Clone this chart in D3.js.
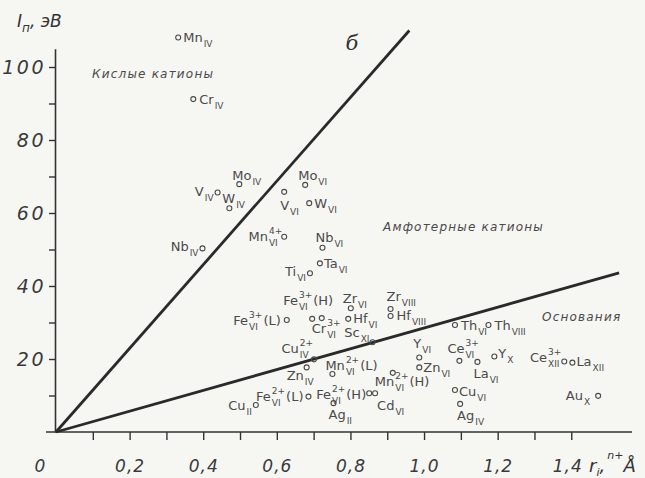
<!DOCTYPE html>
<html>
<head>
<meta charset="utf-8">
<script src="https://cdn.jsdelivr.net/npm/d3@7"></script>
<style>
  body { margin: 0; background: #f6f6f3; }
  svg { display: block; }
  .ion { font-family: "DejaVu Sans", sans-serif; font-size: 13px; fill: #4a4a4a; }
  .idx { font-family: "DejaVu Sans", sans-serif; font-size: 9px; fill: #4a4a4a; }
  .tick text { font-family: "DejaVu Sans", sans-serif; font-style: italic; fill: #3a3a3a; }
  .note { font-family: "DejaVu Sans", sans-serif; font-style: italic; font-size: 12px; fill: #4a4a4a; letter-spacing: 1.2px; }
</style>
</head>
<body>
<div id="root"></div>
<script>
// ионы: символ, координация (нижний индекс), заряд (верхний), спин
const elements = ["Mn","Cr","Mo","V","W","Nb","Mo","V","W","Mn","Nb","Ti","Ta","Fe","Cr","Fe","Zr","Hf","Sc","Zr","Hf",
  "Cu","Zn","Mn","Fe","Cu","Fe","Cd","Ag","Mn","Y","Zn","Th","Th","Ce","La","Y","Cu","Ag","Ce","La","Au"];
const coordination = ["IV","IV","IV","IV","IV","IV","VI","VI","VI","VI","VI","VI","VI","VI","VI","VI","VI","VI","XI","VIII","VIII",
  "IV","IV","VI","VI","II","VI","VI","II","VI","VI","VI","VI","VIII","VI","VI","X","VI","IV","XII","XII","X"];
const charges = ["","","","","","","","","","4+","","","","3+","3+","3+","","","","","",
  "2+","","2+","2+","","2+","","","2+","","","","","3+","","","","","3+","",""];
const spins = ["","","","","","","","","","","","","","(H)","","(L)","","","","","",
  "","","(L)","(L)","","(H)","","","(H)","","","","","","","","","","","",""];
// ионный радиус r, Å
const radius = [0.332,0.373,0.498,0.439,0.471,0.398,0.677,0.620,0.688,0.620,0.724,0.690,0.717,0.696,0.722,0.627,0.801,0.794,0.860,0.909,0.909,
  0.701,0.681,0.751,0.686,0.543,0.851,0.867,0.754,0.915,0.987,0.987,1.084,1.175,1.096,1.145,1.191,1.084,1.098,1.381,1.403,1.473];
// ионный потенциал In, эВ
const potential = [108.1,91.2,67.9,65.6,61.3,50.3,67.7,65.8,62.7,53.5,50.5,43.5,46.2,31.0,31.2,30.7,33.9,31.0,24.6,33.7,31.8,
  19.9,17.7,15.9,9.7,7.4,10.6,10.6,7.9,16.2,20.4,17.7,29.3,29.3,19.5,19.2,20.7,11.5,7.7,19.3,19.0,9.9];

// границы областей
const acidBorder = [[0, 0], [0.96, 110]];
const baseBorder = [[0, 0], [1.53, 43.6]];

const xTicks = d3.range(1, 15).map(i => i / 10);
const yTicks = d3.range(10, 101, 10);

// положение подписей относительно кружка: dx, dy, привязка
const labelPos = [[5,5,"s"],[6,5,"s"],[-7,-4,"s"],[-4,3,"e"],[-7,-5,"s"],[-4,3,"e"],[-7,-5,"s"],[-4,18,"s"],[5,5,"s"],[-2,4,"e"],
  [-7,-6,"s"],[-4,3,"e"],[4,5,"s"],[-29,-14,"s"],[-10,15,"s"],[-6,5,"e"],[-8,-5,"s"],[5,4,"s"],[-3,-5,"e"],[-4,-8,"s"],[6,4,"s"],
  [-1,-6,"e"],[-20,13,"s"],[-7,-4,"s"],[-5,4,"e"],[-4,5,"e"],[-3,6,"e"],[2,17,"s"],[-5,16,"s"],[-18,13,"s"],[-6,-10,"s"],
  [4,5,"s"],[6,5,"s"],[6,5,"s"],[-12,-8,"s"],[-4,16,"s"],[4,2,"s"],[4,6,"s"],[-3,16,"s"],[-3,0,"e"],[4,3,"s"],[-8,4,"e"]];

const width = 645;
const height = 478;

const svg = d3.select("#root")
  .append("svg")
    .attr("width", width)
    .attr("height", height);

const xScale = d3.scaleLinear().domain([0, 1.565]).range([56, 632]);
const yScale = d3.scaleLinear().domain([0, 105]).range([432, 48.75]);

// Оси
const xAxis = svg.append("g")
  .attr("transform", `translate(0, ${yScale(0)})`)
  .call(d3.axisBottom(xScale)
    .tickValues(xTicks)
    .tickSize(8)
    .tickSizeOuter(0)
    .tickPadding(20)
    .tickFormat(d => Math.round(d * 10) % 2 === 0 ? d.toFixed(1).replace(".", ",") : ""));
xAxis.select(".domain").attr("d", `M${xScale(0) - 10},0H${xScale(1.565)}`);

const yAxis = svg.append("g")
  .attr("transform", `translate(${xScale(0) - 1}, 0)`)
  .call(d3.axisLeft(yScale)
    .tickValues(yTicks)
    .tickSize(6)
    .tickSizeOuter(0)
    .tickPadding(3)
    .tickFormat(d => d % 20 === 0 ? d : ""));

svg.selectAll(".domain").attr("stroke", "#333").attr("stroke-width", 1.6);
svg.selectAll(".tick line").attr("stroke", "#333").attr("stroke-width", 1.4);
xAxis.selectAll(".tick text").style("font-size", "17px").style("letter-spacing", "1px");
yAxis.selectAll(".tick text").style("font-size", "19px").style("letter-spacing", "2.5px");
// подпись 1,4 чуть левее, как в оригинале
xAxis.selectAll(".tick").filter(d => Math.round(d * 10) === 14).select("text").attr("dx", -4);

svg.append("text")
    .attr("x", xScale(0) - 16)
    .attr("y", 472)
    .attr("text-anchor", "middle")
    .style("font", "italic 17px 'DejaVu Sans'")
    .attr("fill", "#3a3a3a")
    .text("0");

// подпись оси y: In, эВ
const yTitle = svg.append("text")
    .attr("x", 17)
    .attr("y", 27)
    .style("font", "italic 17px 'DejaVu Sans'")
    .attr("fill", "#333");
yTitle.append("tspan").text("I");
yTitle.append("tspan").attr("dy", 5).style("font-size", "12px").text("п");
yTitle.append("tspan").attr("dy", -5).text(", эВ");

// подпись оси x: ri n+, Å
const xTitle = svg.append("text")
    .attr("x", 589)
    .attr("y", 472)
    .style("font", "italic 18px 'DejaVu Sans'")
    .attr("fill", "#333");
xTitle.append("tspan").text("r");
xTitle.append("tspan").attr("dy", 4).style("font-size", "11px").text("i");
xTitle.append("tspan").attr("dy", -4).text(",");
xTitle.append("tspan").attr("dy", -13).attr("dx", 2).style("font-size", "11px").text("n+");
xTitle.append("tspan").attr("dy", 13).attr("dx", 0).text("Å");

// Границы
const lineCreator = d3.line()
  .x(d => xScale(d[0]))
  .y(d => yScale(d[1]));

svg.selectAll("path.border")
  .data([acidBorder, baseBorder])
  .enter()
  .append("path")
    .attr("class", "border")
    .attr("d", d => lineCreator(d))
    .attr("fill", "none")
    .attr("stroke", "#2a2a2a")
    .attr("stroke-width", 2.8);

// Надписи областей
svg.append("text").attr("class", "note").attr("x", 92).attr("y", 78).text("Кислые катионы");
svg.append("text").attr("class", "note").attr("x", 383).attr("y", 231).text("Амфотерные катионы");
svg.append("text").attr("class", "note").attr("x", 542).attr("y", 321).text("Основания");
svg.append("text")
    .attr("x", 352)
    .attr("y", 50)
    .attr("text-anchor", "middle")
    .style("font", "italic 21px 'DejaVu Serif'")
    .attr("fill", "#333")
    .text("б");

// Точки
const idx = d3.range(elements.length);

svg.selectAll("circle.ion-point")
  .data(idx)
  .enter()
  .append("circle")
    .attr("class", "ion-point")
    .attr("cx", i => xScale(radius[i]))
    .attr("cy", i => yScale(potential[i]))
    .attr("r", 2.5)
    .attr("fill", "none")
    .attr("stroke", "#4a4a4a")
    .attr("stroke-width", 1.1);

// Подписи ионов
idx.forEach(i => {
  const [dx, dy, anchor] = labelPos[i];
  const g = svg.append("g");
  let w = g.append("text").attr("class", "ion").text(elements[i]).node().getComputedTextLength();
  let w2 = 0;
  if (charges[i]) {
    const t = g.append("text").attr("class", "idx").attr("x", w + 1).attr("y", -7).text(charges[i]);
    w2 = Math.max(w2, t.node().getComputedTextLength());
  }
  if (coordination[i]) {
    const t = g.append("text").attr("class", "idx").attr("x", w + 1).attr("y", 5).text(coordination[i]);
    w2 = Math.max(w2, t.node().getComputedTextLength());
  }
  w += w2 + 1;
  if (spins[i]) {
    const t = g.append("text").attr("class", "ion").attr("x", w + 1).text(spins[i]);
    w += t.node().getComputedTextLength() + 1;
  }
  const x0 = xScale(radius[i]) + dx - (anchor === "e" ? w : 0);
  g.attr("transform", `translate(${x0}, ${yScale(potential[i]) + dy})`);
});
</script>
</body>
</html>
